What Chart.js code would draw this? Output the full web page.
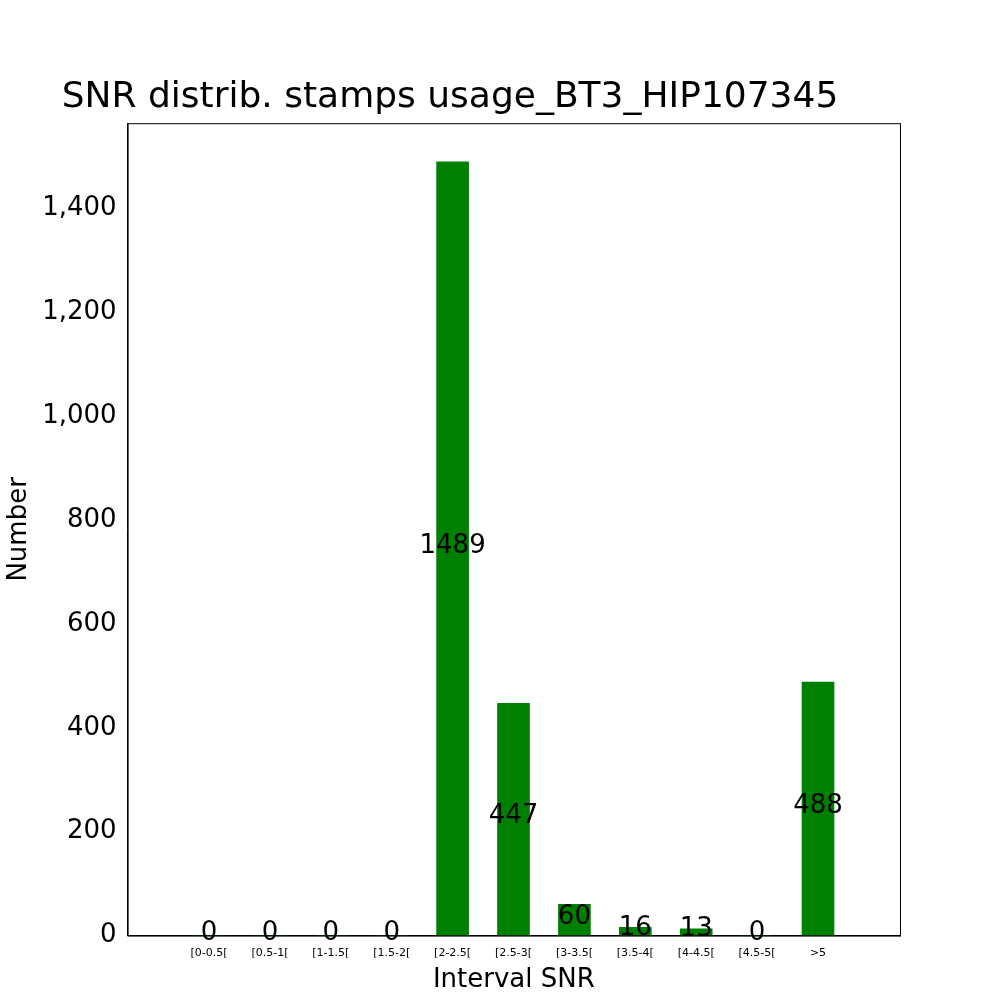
<!DOCTYPE html>
<html><head><script src="https://cdn.jsdelivr.net/npm/chart.js"></script>
<style>body{margin:0;background:#fff}</style></head>
<body><canvas id="c" width="1000" height="1000" style="width:1000px;height:1000px"></canvas>
<script>
const categories=["[0-0.5[","[0.5-1[","[1-1.5[","[1.5-2[","[2-2.5[","[2.5-3[","[3-3.5[","[3.5-4[","[4-4.5[","[4.5-5[",">5"];
const values=[0,0,0,0,1489,447,60,16,13,0,488];
const yTicks=[0,200,400,600,800,1000,1200,1400];
const labelPlugin={id:'lbl',afterDatasetsDraw(ch){const c=ch.ctx,xs=ch.scales.x,ys=ch.scales.y;c.save();c.font='26px "DejaVu Sans"';c.fillStyle='#000';c.textAlign='center';c.textBaseline='alphabetic';
values.forEach((v,i)=>{c.fillText(String(v),xs.getPixelForValue(i),ys.getPixelForValue(v/2)+4);});c.restore();}};
const boxPlugin={id:'box',afterDraw(ch){const a=ch.chartArea,c=ch.ctx;c.save();c.strokeStyle='#000';c.lineWidth=1;c.strokeRect(a.left+0.5,a.top+0.5,a.right-a.left,a.bottom-a.top);c.restore();}};
new Chart(document.getElementById('c'),{type:'bar',
data:{datasets:[{data:values.map((v,i)=>({x:i,y:v})),backgroundColor:'#008000',barThickness:32}]},
options:{responsive:false,animation:false,devicePixelRatio:1,
layout:{padding:{left:0,right:100,top:0,bottom:0}},
plugins:{legend:{display:false},tooltip:{enabled:false},
title:{display:true,text:'SNR distrib. stamps usage_BT3_HIP107345',font:{size:36,family:'DejaVu Sans',weight:'normal'},color:'#000',padding:{top:76,bottom:4}}},
scales:{x:{type:'linear',min:-0.76,max:10.77,grid:{display:false},border:{color:'#000'},
afterBuildTicks(s){s.ticks=categories.map((_,i)=>({value:i}));},
ticks:{autoSkip:false,maxRotation:0,color:'#000',font:{size:11,family:'DejaVu Sans'},callback:(v)=>categories[v]},
title:{display:true,text:'Interval SNR',color:'#000',font:{size:26,family:'DejaVu Sans'},padding:{top:2}}},
y:{min:0,max:1563.45,grid:{display:false},border:{color:'#000'},
afterBuildTicks(s){s.ticks=yTicks.map(v=>({value:v}));},
ticks:{color:'#000',font:{size:26,family:'DejaVu Sans'}},
title:{display:true,text:'Number',color:'#000',font:{size:26,family:'DejaVu Sans'}}}}},
plugins:[labelPlugin,boxPlugin]});
</script></body></html>
